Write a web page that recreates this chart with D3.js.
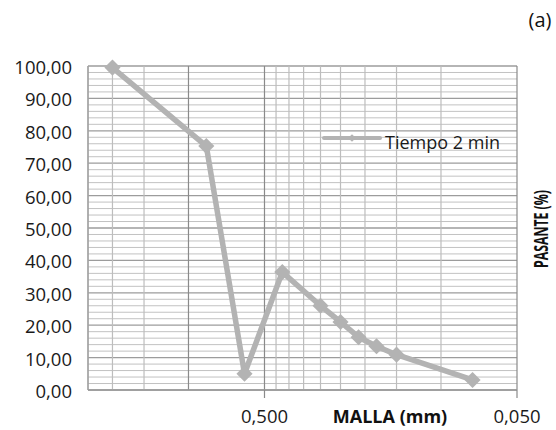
<!DOCTYPE html>
<html>
<head>
<meta charset="utf-8">
<script src="https://cdn.jsdelivr.net/npm/d3@7"></script>
<style>
    body { margin: 0; background: #fff; }
    svg { display: block; font-family: "Open Sans", Lato, sans-serif; }
</style>
</head>
<body>
<svg id="chart" width="556" height="430"></svg>
<script>
// sieve openings (mm) and % passing
var malla = [2.0, 0.85, 0.6, 0.425, 0.3, 0.25, 0.212, 0.18, 0.15, 0.075],
    pasante = [99.5, 75.3, 5.0, 36.4, 26.0, 21.0, 16.3, 13.5, 10.9, 3.1],
    serie = 'Tiempo 2 min',
    xMinor = [0.1, 0.15, 0.2, 0.25, 0.3, 0.35, 0.4, 0.45, 1.5, 2.0, 2.5],
    xMajor = [0.05, 0.5, 1.0],
    xLabels = [0.5, 0.05],
    yLabels = [0, 10, 20, 30, 40, 50, 60, 70, 80, 90, 100];

var svg = d3.select('#chart'),
    plotL = 88,
    plotR = 517,
    plotT = 66,
    plotB = 390,
    grey = '#b3b3b3',
    es = d3.formatLocale({decimal: ',', thousands: '.', grouping: [3], currency: ['', '']}),
    x,
    y,
    i,
    minorY = [];

for (i = 0; i <= 100; i += 2) {
    minorY.push(i);
}

x = d3.scaleLog().domain([2.5, 0.05]).range([plotL, plotR]);
y = d3.scaleLinear().domain([0, 100]).range([plotB, plotT]);

// grid
svg.append('g').selectAll('line').data(minorY).join('line')
    .attr('x1', plotL).attr('x2', plotR)
    .attr('y1', function (d) { return y(d); })
    .attr('y2', function (d) { return y(d); })
    .attr('stroke', function (d) { return d % 10 === 0 ? '#9c9c9c' : '#c2c2c2'; })
    .attr('stroke-width', function (d) { return d % 10 === 0 ? 1.3 : 1; });

svg.append('g').selectAll('line').data(xMinor).join('line')
    .attr('x1', function (d) { return x(d); })
    .attr('x2', function (d) { return x(d); })
    .attr('y1', plotT).attr('y2', plotB)
    .attr('stroke', '#bdbdbd').attr('stroke-width', 1.2);

svg.append('g').selectAll('line').data(xMajor).join('line')
    .attr('x1', function (d) { return x(d); })
    .attr('x2', function (d) { return x(d); })
    .attr('y1', plotT).attr('y2', plotB)
    .attr('stroke', '#8a8a8a').attr('stroke-width', 1.2);

// axes
svg.append('line')
    .attr('x1', plotL).attr('x2', plotL).attr('y1', plotT).attr('y2', plotB)
    .attr('stroke', '#9a9a9a').attr('stroke-width', 1.3);
svg.append('line')
    .attr('x1', plotL).attr('x2', plotR).attr('y1', plotB).attr('y2', plotB)
    .attr('stroke', '#9a9a9a').attr('stroke-width', 1.3);

svg.append('g').selectAll('line').data(xLabels).join('line')
    .attr('x1', function (d) { return x(d); })
    .attr('x2', function (d) { return x(d); })
    .attr('y1', plotB).attr('y2', plotB + 8)
    .attr('stroke', '#8a8a8a').attr('stroke-width', 1.2);

svg.append('g').selectAll('text').data(yLabels).join('text')
    .attr('x', plotL - 16)
    .attr('y', function (d) { return y(d) + 8; })
    .attr('text-anchor', 'end')
    .attr('font-size', 18.5)
    .attr('fill', '#1a1a1a')
    .text(function (d) { return es.format('.2f')(d); });

svg.append('g').selectAll('text').data(xLabels).join('text')
    .attr('x', function (d) { return x(d); })
    .attr('y', 423)
    .attr('text-anchor', 'middle')
    .attr('font-size', 18.5)
    .attr('fill', '#1a1a1a')
    .text(function (d) { return es.format('.3f')(d); });

svg.append('text')
    .attr('x', 390).attr('y', 423)
    .attr('text-anchor', 'middle')
    .attr('font-size', 18).attr('font-weight', 'bold')
    .attr('fill', '#111')
    .text('MALLA (mm)');

svg.append('text')
    .attr('transform', 'translate(548,229) rotate(-90)')
    .attr('text-anchor', 'middle')
    .attr('font-size', 19).attr('font-weight', 'bold')
    .attr('textLength', 78).attr('lengthAdjust', 'spacingAndGlyphs')
    .attr('fill', '#111')
    .text('PASANTE (%)');

svg.append('text')
    .attr('x', 540).attr('y', 27)
    .attr('text-anchor', 'middle')
    .attr('font-size', 20)
    .attr('fill', '#111')
    .text('(a)');

// series
svg.append('path')
    .datum(d3.zip(malla, pasante))
    .attr('fill', 'none')
    .attr('stroke', grey)
    .attr('stroke-width', 5.5)
    .attr('stroke-linejoin', 'round')
    .attr('d', d3.line()
        .x(function (d) { return x(d[0]); })
        .y(function (d) { return y(d[1]); }));

svg.append('g').selectAll('path').data(d3.zip(malla, pasante)).join('path')
    .attr('transform', function (d) {
        return 'translate(' + x(d[0]) + ',' + y(d[1]) + ') rotate(45)';
    })
    .attr('d', d3.symbol().type(d3.symbolSquare).size(130))
    .attr('fill', grey);

// legend
svg.append('line')
    .attr('x1', 324).attr('x2', 380).attr('y1', 138).attr('y2', 138)
    .attr('stroke', grey).attr('stroke-width', 4).attr('stroke-linecap', 'round');
svg.append('path')
    .attr('transform', 'translate(352,138) rotate(45)')
    .attr('d', d3.symbol().type(d3.symbolSquare).size(30))
    .attr('fill', grey);
svg.append('text')
    .attr('x', 385).attr('y', 149)
    .attr('font-size', 18)
    .attr('fill', '#1a1a1a')
    .text(serie);
</script>
</body>
</html>
